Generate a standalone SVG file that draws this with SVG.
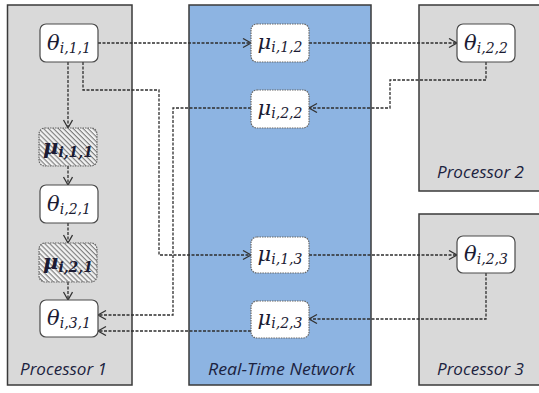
<svg xmlns="http://www.w3.org/2000/svg" width="539" height="393" viewBox="0 0 539 393">
<style>
.proc{fill:#d9d9d9;stroke:#3a3a3a;stroke-width:1.5}
.net{fill:#8db4e2;stroke:#3a3a3a;stroke-width:1.5}
.th{fill:#fff;stroke:#4a4a4a;stroke-width:1.2}
.mu{fill:#fff;stroke:#666;stroke-width:1.2;stroke-dasharray:1.5 1}
.hat{fill:url(#hatch);stroke:#666;stroke-width:1.2;stroke-dasharray:1.5 1}
.lab{font-family:"DejaVu Serif","Liberation Serif",serif;font-style:italic;font-size:21px;fill:#1b1b33}
.sub{font-size:14px}
.bold{font-weight:bold}
.cap{font-family:"Open Sans","Liberation Sans",sans-serif;font-style:italic;font-size:16.5px;fill:#1c2340}
.con{fill:none;stroke:#2e2e2e;stroke-width:1.3;stroke-dasharray:3 1.5}
</style>
<defs>
<pattern id="hatch" patternUnits="userSpaceOnUse" width="3.5" height="3.5" patternTransform="rotate(45)">
<rect width="3.5" height="3.5" fill="#f4f4f4"/>
<line x1="0" y1="0.6" x2="3.5" y2="0.6" stroke="#777" stroke-width="1.1"/>
</pattern>
<marker id="arr" markerUnits="userSpaceOnUse" markerWidth="12" markerHeight="12" refX="9" refY="5" orient="auto">
<path d="M1,0.5 L9,5 L1,9.5" fill="none" stroke="#333" stroke-width="1.3"/>
</marker>
</defs>

<g id="processor1"><rect class="proc" x="7.5" y="5" width="124.5" height="380"/><text class="cap" x="20" y="375" textLength="87" lengthAdjust="spacingAndGlyphs">Processor 1</text></g>
<g id="network"><rect class="net" x="189" y="5" width="182" height="380"/><text class="cap" x="208" y="375" textLength="147" lengthAdjust="spacingAndGlyphs">Real-Time Network</text></g>
<g id="processor2"><rect class="proc" x="419" y="5" width="130" height="186"/><text class="cap" x="437" y="178" textLength="87" lengthAdjust="spacingAndGlyphs">Processor 2</text></g>
<g id="processor3"><rect class="proc" x="419" y="214" width="130" height="171"/><text class="cap" x="437" y="375" textLength="87" lengthAdjust="spacingAndGlyphs">Processor 3</text></g>

<g id="connectors">
<path class="con" d="M98,43 H251" marker-end="url(#arr)"/>
<path class="con" d="M309,43 H457" marker-end="url(#arr)"/>
<path class="con" d="M486,62 V80 H390 V108 H309" marker-end="url(#arr)"/>
<path class="con" d="M251,108 H173 V315 H98" marker-end="url(#arr)"/>
<path class="con" d="M83,62 V90 H159 V255 H251" marker-end="url(#arr)"/>
<path class="con" d="M309,255 H457" marker-end="url(#arr)"/>
<path class="con" d="M486,273 V319 H309" marker-end="url(#arr)"/>
<path class="con" d="M251,331 H98" marker-end="url(#arr)"/>
<path class="con" d="M68,62 V128" marker-end="url(#arr)"/>
<path class="con" d="M68,166 V185" marker-end="url(#arr)"/>
<path class="con" d="M68,223 V243" marker-end="url(#arr)"/>
<path class="con" d="M68,282 V300" marker-end="url(#arr)"/>
</g>

<g id="theta_i11"><rect class="th" x="40" y="24" width="58" height="38" rx="6"/><text class="lab" x="69" y="50" text-anchor="middle">θ<tspan class="sub" dy="3">i,1,1</tspan></text></g>
<g id="mu_i11"><rect class="hat" x="39" y="128" width="58" height="38" rx="6"/><text class="lab bold" x="68" y="154" text-anchor="middle">μ<tspan class="sub" dy="3">i,1,1</tspan></text></g>
<g id="theta_i21"><rect class="th" x="40" y="185" width="58" height="38" rx="6"/><text class="lab" x="69" y="211" text-anchor="middle">θ<tspan class="sub" dy="3">i,2,1</tspan></text></g>
<g id="mu_i21"><rect class="hat" x="39" y="243" width="58" height="39" rx="6"/><text class="lab bold" x="68" y="269" text-anchor="middle">μ<tspan class="sub" dy="3">i,2,1</tspan></text></g>
<g id="theta_i31"><rect class="th" x="40" y="300" width="58" height="37" rx="6"/><text class="lab" x="69" y="325" text-anchor="middle">θ<tspan class="sub" dy="3">i,3,1</tspan></text></g>

<g id="mu_i12"><rect class="mu" x="251" y="24" width="58" height="38" rx="6"/><text class="lab" x="280" y="49" text-anchor="middle">μ<tspan class="sub" dy="3">i,1,2</tspan></text></g>
<g id="mu_i22"><rect class="mu" x="251" y="90" width="58" height="38" rx="6"/><text class="lab" x="280" y="115" text-anchor="middle">μ<tspan class="sub" dy="3">i,2,2</tspan></text></g>
<g id="mu_i13"><rect class="mu" x="251" y="237" width="58" height="36" rx="6"/><text class="lab" x="280" y="261" text-anchor="middle">μ<tspan class="sub" dy="3">i,1,3</tspan></text></g>
<g id="mu_i23"><rect class="mu" x="251" y="301" width="58" height="37" rx="6"/><text class="lab" x="280" y="325" text-anchor="middle">μ<tspan class="sub" dy="3">i,2,3</tspan></text></g>

<g id="theta_i22"><rect class="th" x="457" y="24" width="58" height="38" rx="6"/><text class="lab" x="486" y="50" text-anchor="middle">θ<tspan class="sub" dy="3">i,2,2</tspan></text></g>
<g id="theta_i23"><rect class="th" x="457" y="236" width="58" height="37" rx="6"/><text class="lab" x="486" y="261" text-anchor="middle">θ<tspan class="sub" dy="3">i,2,3</tspan></text></g>
</svg>
